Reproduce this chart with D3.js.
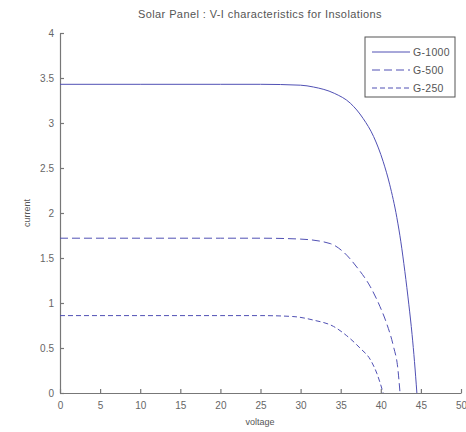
<!DOCTYPE html>
<html>
<head>
<meta charset="utf-8">
<script src="https://cdn.jsdelivr.net/npm/d3@7"></script>
<style>
  body { margin: 0; background: #fff; }
  text { font-family: "Liberation Sans", Arial, sans-serif; fill: #555; }
</style>
</head>
<body>
<div id="container"></div>
<script>
/* CONSTANTS AND GLOBALS */
const width = 466,
  height = 432,
  margin = { top: 33, bottom: 39, left: 60, right: 5 };

// voltage / current points
const voltage1000 = [0, 10, 20, 25, 30, 31.6, 34.2, 36.2, 37.8, 39.1, 40.3, 41.1, 42.0, 42.5, 43.0, 43.5, 43.9, 44.2, 44.5];
const current1000 = [3.43, 3.43, 3.43, 3.43, 3.42, 3.40, 3.33, 3.22, 3.05, 2.85, 2.57, 2.32, 1.95, 1.68, 1.35, 0.98, 0.65, 0.35, 0];

const voltage500 = [0, 10, 20, 25, 30, 33.7, 35.3, 37.0, 38.7, 39.9, 40.7, 41.6, 42.1, 42.4];
const current500 = [1.72, 1.72, 1.72, 1.72, 1.71, 1.66, 1.57, 1.40, 1.18, 0.96, 0.78, 0.51, 0.29, 0];

const voltage250 = [0, 10, 20, 25, 29, 31.6, 34.1, 35.7, 37.4, 38.7, 39.5, 40.3];
const current250 = [0.86, 0.86, 0.86, 0.86, 0.85, 0.81, 0.74, 0.64, 0.50, 0.37, 0.22, 0];

const seriesNames = ["G-1000", "G-500", "G-250"];
const xTicks = [0, 5, 10, 15, 20, 25, 30, 35, 40, 45, 50];
const yTicks = [0, 0.5, 1, 1.5, 2, 2.5, 3, 3.5, 4];

const lineColor = "#5050b4";
const dashes = [null, "8,4", "5,3"];

const series = [
  { name: seriesNames[0], points: voltage1000.map((v, i) => [v, current1000[i]]), dash: dashes[0] },
  { name: seriesNames[1], points: voltage500.map((v, i) => [v, current500[i]]), dash: dashes[1] },
  { name: seriesNames[2], points: voltage250.map((v, i) => [v, current250[i]]), dash: dashes[2] }
];

const svg = d3.select("#container")
  .append("svg")
  .attr("width", width)
  .attr("height", height);

// + SCALES
const xScale = d3.scaleLinear()
  .domain([0, 50])
  .range([margin.left, width - margin.right]);

const yScale = d3.scaleLinear()
  .domain([0, 4])
  .range([height - margin.bottom, margin.top]);

// + AXES (ticks point inward, matlab style)
const xAxis = d3.axisBottom(xScale)
  .tickValues(xTicks)
  .tickSizeInner(-4)
  .tickSizeOuter(0)
  .tickPadding(9)
  .tickFormat(d3.format("d"));

const yAxis = d3.axisLeft(yScale)
  .tickValues(yTicks)
  .tickSizeInner(-4)
  .tickSizeOuter(0)
  .tickPadding(6)
  .tickFormat(d => d);

const xAxisGroup = svg.append("g")
  .attr("transform", `translate(0, ${height - margin.bottom})`)
  .call(xAxis);

const yAxisGroup = svg.append("g")
  .attr("transform", `translate(${margin.left}, 0)`)
  .call(yAxis);

[xAxisGroup, yAxisGroup].forEach(g => {
  g.selectAll("path, line").attr("stroke", "#777").attr("stroke-width", 1.2);
  g.selectAll("text").attr("font-size", 10).style("fill", "#666");
});

// + LINES
const lineGen = d3.line()
  .curve(d3.curveMonotoneX)
  .x(d => xScale(d[0]))
  .y(d => yScale(d[1]));

svg.selectAll(".line")
  .data(series)
  .join("path")
  .attr("class", "line")
  .attr("fill", "none")
  .attr("stroke", lineColor)
  .attr("stroke-width", 1)
  .attr("stroke-dasharray", d => d.dash)
  .attr("d", d => lineGen(d.points));

// + TITLE AND LABELS
svg.append("text")
  .attr("x", 260)
  .attr("y", 18)
  .attr("text-anchor", "middle")
  .attr("font-size", 11)
  .attr("letter-spacing", 0.4)
  .text("Solar Panel :  V-I characteristics for Insolations");

svg.append("text")
  .attr("x", 260)
  .attr("y", 425)
  .attr("text-anchor", "middle")
  .attr("font-size", 9)
  .text("voltage");

svg.append("text")
  .attr("transform", `translate(30, ${yScale(2)}) rotate(-90)`)
  .attr("text-anchor", "middle")
  .attr("font-size", 9)
  .text("current");

// + LEGEND
const legend = svg.append("g").attr("transform", "translate(365, 37)");
legend.append("rect")
  .attr("width", 90)
  .attr("height", 60)
  .attr("fill", "#fff")
  .attr("stroke", "#555")
  .attr("stroke-width", 1);

legend.selectAll(".entry")
  .data(series)
  .join("g")
  .attr("class", "entry")
  .attr("transform", (d, i) => `translate(0, ${15 + i * 18})`)
  .each(function (d) {
    const g = d3.select(this);
    g.append("line")
      .attr("x1", 7).attr("x2", 45)
      .attr("stroke", lineColor)
      .attr("stroke-width", 1)
      .attr("stroke-dasharray", d.dash);
    g.append("text")
      .attr("x", 48)
      .attr("y", 4)
      .attr("font-size", 10.5)
      .attr("letter-spacing", 0.3)
      .text(d.name);
  });
</script>
</body>
</html>
